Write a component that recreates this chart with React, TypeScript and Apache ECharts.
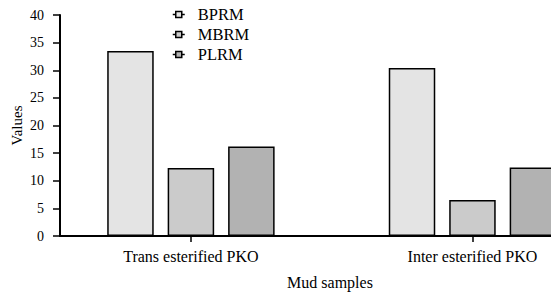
import React, { useEffect, useRef } from "react";
import * as echarts from "echarts";

const categories = ["Trans esterified PKO", "Inter esterified PKO"];
const categoryPositions = [1, 2];
const seriesNames = ["BPRM", "MBRM", "PLRM"];
const bprm = [33.5, 30.4];
const mbrm = [12.3, 6.5];
const plrm = [16.2, 12.4];
const yTicks = { min: 0, max: 40, interval: 5 };

const colors = ["#e4e4e4", "#cbcbcb", "#b2b2b2"];
const FONT = "Liberation Serif";

export default function App() {
  const ref = useRef<HTMLDivElement>(null);
  useEffect(() => {
    if (!ref.current) return;
    const chart = echarts.init(ref.current, null, { renderer: "svg" });
    const values = [bprm, mbrm, plrm];
    chart.setOption({
      animation: false,
      textStyle: { fontFamily: FONT, color: "#000" },
      grid: { left: 60, right: -49, top: 15, bottom: 56, outerBoundsMode: "none", containLabel: false },
      legend: {
        orient: "vertical",
        left: 172,
        top: 6,
        padding: 0,
        itemWidth: 12,
        itemHeight: 7,
        itemGap: 3,
        icon: "path://M0,4 L3,4 M3,1 L9,1 L9,7 L3,7 Z M9,4 L12,4",
        itemStyle: { borderColor: "#000", borderWidth: 1.5 },
        textStyle: { fontFamily: FONT, fontSize: 16.5, color: "#000", padding: [0, 0, 0, 8] },
        data: seriesNames,
      },
      xAxis: {
        type: "value",
        min: 0.535,
        max: 2.453,
        name: "Mud samples",
        nameLocation: "middle",
        nameGap: 38,
        nameMoveOverlap: false,
        nameTextStyle: { fontFamily: FONT, fontSize: 16, color: "#000" },
        splitLine: { show: false },
        axisLine: { show: true, onZero: false, lineStyle: { color: "#000", width: 2 } },
        axisTick: {
          show: true,
          customValues: categoryPositions,
          length: 6,
          lineStyle: { color: "#000", width: 1.5 },
        },
        axisLabel: {
          customValues: categoryPositions,
          margin: 12,
          fontFamily: FONT,
          fontSize: 16,
          color: "#000",
          formatter: (v: number) => categories[categoryPositions.indexOf(v)] ?? "",
        },
      },
      yAxis: {
        type: "value",
        min: yTicks.min,
        max: yTicks.max,
        interval: yTicks.interval,
        name: "Values",
        nameLocation: "middle",
        nameGap: 36,
        nameMoveOverlap: false,
        nameTextStyle: { fontFamily: FONT, fontSize: 15, color: "#000" },
        splitLine: { show: false },
        axisLine: { show: true, onZero: false, lineStyle: { color: "#000", width: 2 } },
        axisTick: { show: true, length: 7, lineStyle: { color: "#000", width: 1.5 } },
        axisLabel: { margin: 16, fontFamily: FONT, fontSize: 14, color: "#000" },
      },
      series: seriesNames.map((name, i) => ({
        name,
        type: "bar",
        barWidth: 46.5,
        barGap: "30%",
        itemStyle: { color: colors[i], borderColor: "#000", borderWidth: 1.5 },
        data: categoryPositions.map((x, j) => [x, values[i][j]]),
      })),
    });
    return () => chart.dispose();
  }, []);
  return (
    <div
      ref={ref}
      style={{ position: "fixed", left: 0, top: 0, width: 551, height: 292, background: "#fff" }}
    />
  );
}
